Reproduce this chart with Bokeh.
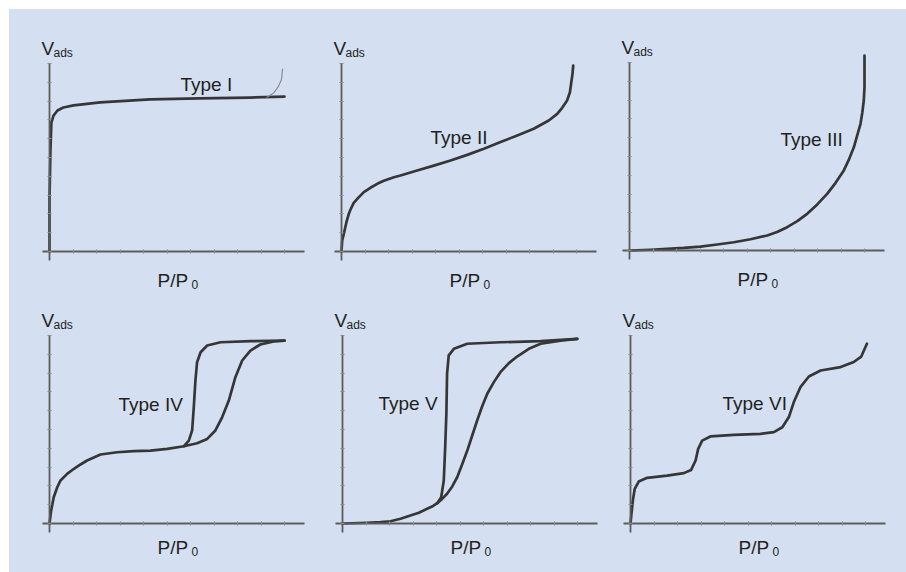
from bokeh.plotting import figure
from bokeh.models import LinearAxis, Range1d, SingleIntervalTicker
from bokeh.layouts import row, column
from bokeh.embed import file_html
from bokeh.resources import INLINE
from bokeh.core.properties import value

# ---------------- data (x = P/P0, y = relative V_ads) ----------------
type1_x = [0, 0, 0.004, 0.008, 0.017, 0.034, 0.059, 0.102, 0.216, 0.428, 0.640, 0.852, 1.0]
type1_y = [0, 0.271, 0.537, 0.686, 0.723, 0.750, 0.766, 0.777, 0.793, 0.809, 0.814, 0.819, 0.824]
type1_tail_x = [0.924, 0.955, 0.975, 0.987, 0.992]
type1_tail_y = [0.819, 0.845, 0.880, 0.915, 0.973]

type2_x = [0, 0.003, 0.010, 0.021, 0.031, 0.038, 0.052, 0.074, 0.095, 0.123, 0.152, 0.180, 0.223,
           0.251, 0.322, 0.393, 0.464, 0.535, 0.606, 0.677, 0.748, 0.818, 0.882, 0.918, 0.939,
           0.960, 0.972, 0.977, 0.983, 0.986]
type2_y = [0, 0.059, 0.094, 0.156, 0.200, 0.222, 0.259, 0.289, 0.316, 0.339, 0.360, 0.376, 0.395,
           0.404, 0.431, 0.457, 0.484, 0.514, 0.546, 0.582, 0.617, 0.653, 0.697, 0.732, 0.764,
           0.803, 0.847, 0.892, 0.945, 0.989]

type3_x = [0, 0.089, 0.160, 0.231, 0.302, 0.373, 0.444, 0.515, 0.586, 0.628, 0.671, 0.714, 0.756,
           0.799, 0.841, 0.877, 0.912, 0.933, 0.955, 0.969, 0.983, 0.991, 0.997, 1.0, 1.0]
type3_y = [0, 0.004, 0.009, 0.014, 0.021, 0.032, 0.044, 0.060, 0.080, 0.098, 0.124, 0.156, 0.195,
           0.245, 0.301, 0.360, 0.426, 0.482, 0.550, 0.612, 0.674, 0.736, 0.798, 0.869, 1.037]

type4_ads_x = [0, 0.007, 0.018, 0.033, 0.047, 0.075, 0.104, 0.132, 0.160, 0.217, 0.288, 0.359,
               0.430, 0.501, 0.572, 0.628, 0.671, 0.706, 0.735, 0.763, 0.791, 0.820, 0.855, 0.897,
               0.954, 1.0]
type4_ads_y = [0, 0.069, 0.140, 0.193, 0.229, 0.264, 0.291, 0.314, 0.335, 0.367, 0.379, 0.385,
               0.388, 0.397, 0.411, 0.427, 0.450, 0.495, 0.566, 0.654, 0.778, 0.867, 0.920, 0.952,
               0.968, 0.973]
type4_des_x = [0.572, 0.593, 0.607, 0.614, 0.621, 0.628, 0.643, 0.671, 0.728, 0.855, 1.0]
type4_des_y = [0.411, 0.441, 0.495, 0.619, 0.761, 0.858, 0.911, 0.947, 0.964, 0.970, 0.973]

type5_ads_x = [0, 0.105, 0.162, 0.204, 0.247, 0.289, 0.325, 0.360, 0.381, 0.403, 0.424, 0.445,
               0.467, 0.488, 0.509, 0.531, 0.552, 0.573, 0.594, 0.616, 0.644, 0.672, 0.708, 0.743,
               0.793, 0.843, 0.928, 0.999]
type5_ads_y = [0, 0.004, 0.007, 0.012, 0.025, 0.043, 0.057, 0.078, 0.090, 0.108, 0.131, 0.158,
               0.197, 0.246, 0.314, 0.388, 0.468, 0.548, 0.622, 0.690, 0.752, 0.805, 0.853, 0.888,
               0.929, 0.956, 0.973, 0.982]
type5_des_x = [0.403, 0.420, 0.431, 0.437, 0.442, 0.445, 0.452, 0.474, 0.531, 0.672, 0.843, 0.999]
type5_des_y = [0.108, 0.140, 0.229, 0.406, 0.584, 0.796, 0.894, 0.929, 0.956, 0.964, 0.970, 0.982]

type6_x = [0, 0.004, 0.010, 0.018, 0.035, 0.071, 0.156, 0.227, 0.258, 0.277, 0.288, 0.305, 0.340,
           0.440, 0.553, 0.610, 0.646, 0.674, 0.695, 0.723, 0.759, 0.809, 0.894, 0.950, 0.982, 1.006]
type6_y = [0, 0.051, 0.122, 0.184, 0.223, 0.243, 0.255, 0.268, 0.285, 0.335, 0.397, 0.441, 0.463,
           0.471, 0.477, 0.486, 0.512, 0.566, 0.646, 0.725, 0.782, 0.814, 0.832, 0.859, 0.888, 0.956]

type_names = ["Type I", "Type II", "Type III", "Type IV", "Type V", "Type VI"]
y_label = ["V", "ads"]
x_label = ["P/P", "0"]

# ---------------- layout / style ----------------
BLUE = "#d4e0f1"
INK = "#231f20"
CURVE = "#363636"
AXIS = "#5c5c5c"
FONT = "Liberation Sans"
SX, SY = 235.0, 188.0   # pixels per data unit
TEXT_LIFT = 6           # px correction for the text baseline

# figure boxes (left, right, top, bottom) and axis origins, in page pixels
boxes = [(9, 318, 9, 302), (318, 612, 9, 302), (612, 906, 9, 302),
         (9, 318, 302, 572), (318, 612, 302, 572), (612, 906, 302, 572)]
origins = [(49, 251), (341, 251), (629, 250), (49, 523), (342, 523), (630, 523)]
# type label offsets (px from origin; dx right, dy up)
type_off = [(131, 161), (89, 108), (151, 105), (69, 113), (36, 114), (92, 114)]


def make_panel(i):
    L, R, T, B = boxes[i]
    ox, oy = origins[i]
    p = figure(width=R - L, height=B - T,
               x_range=Range1d((L - ox) / SX, (R - ox) / SX),
               y_range=Range1d((oy - B) / SY, (oy - T) / SY),
               x_axis_location=None, y_axis_location=None,
               toolbar_location=None, output_backend="svg",
               min_border=0, title=None)
    p.outline_line_color = None
    p.background_fill_color = BLUE
    p.border_fill_color = BLUE
    for g in p.grid:
        g.visible = False

    for loc, bnds in (("left", (-9 / SY, 188 / SY)), ("below", (-7 / SX, 255 / SX))):
        ax = LinearAxis(fixed_location=0, bounds=bnds,
                        ticker=SingleIntervalTicker(interval=0.1))
        ax.axis_line_color = AXIS
        ax.axis_line_width = 1.8
        ax.major_tick_line_color = "#8a8a8a"
        ax.major_tick_line_width = 1.2
        ax.major_tick_in = 2
        ax.major_tick_out = 2
        ax.minor_tick_line_color = None
        ax.major_label_text_color = None
        ax.major_label_text_font_size = "1px"
        ax.major_label_standoff = 0
        p.add_layout(ax, loc)

    def txt(dx, dy, s, size):
        p.text(x=[dx / SX], y=[(dy + TEXT_LIFT) / SY], text=[s], text_font=value(FONT),
               text_font_size=size, text_color=INK, text_align="left",
               text_baseline="alphabetic")

    txt(-8, 197, y_label[0], "19px")
    txt(4, 193, y_label[1], "12px")
    if i < 3:
        txt(108, -35, x_label[0], "19px")
        txt(142, -39, x_label[1], "12px")
    else:
        txt(108, -30, x_label[0], "19px")
        txt(142, -34, x_label[1], "12px")
    tx, ty = type_off[i]
    txt(tx, ty, type_names[i], "19px")
    return p


panels = [make_panel(i) for i in range(6)]

lw = 2.7
kw = dict(line_color=CURVE, line_width=lw, line_join="round", line_cap="round")
panels[0].line(type1_x, type1_y, **kw)
panels[0].line(type1_tail_x, type1_tail_y, line_color="#8c8c8c", line_width=1.2)
panels[1].line(type2_x, type2_y, **kw)
panels[2].line(type3_x, type3_y, **kw)
panels[3].line(type4_ads_x, type4_ads_y, **kw)
panels[3].line(type4_des_x, type4_des_y, **kw)
panels[4].line(type5_ads_x, type5_ads_y, **kw)
panels[4].line(type5_des_x, type5_des_y, **kw)
panels[5].line(type6_x, type6_y, **kw)

bg = {"background-color": BLUE}
layout = column(row(*panels[:3], spacing=0, styles=bg),
                row(*panels[3:], spacing=0, styles=bg),
                spacing=0, margin=(9, 0, 0, 9), styles=bg)

open("out.html", "w").write(file_html(layout, INLINE))
